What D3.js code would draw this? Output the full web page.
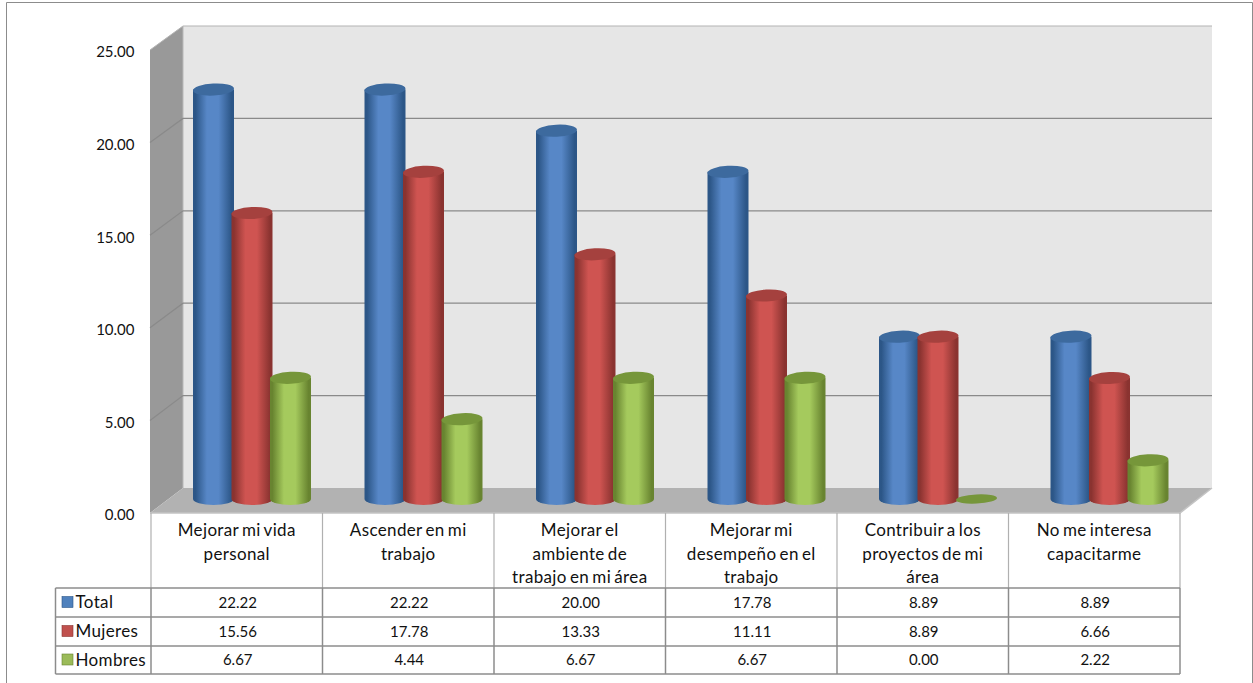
<!DOCTYPE html>
<html><head><meta charset="utf-8">
<script src="https://cdn.jsdelivr.net/npm/d3@7"></script>
<style>html,body{margin:0;padding:0;background:#fff}svg{display:block}text{font-family:Lato,"Open Sans",sans-serif;fill:#111}</style>
</head><body><div id="c"></div>
<script>
const categories=[["Mejorar mi vida","personal"],["Ascender en mi","trabajo"],["Mejorar el","ambiente de","trabajo en mi área"],["Mejorar mi","desempeño en el","trabajo"],["Contribuir a los","proyectos de mi","área"],["No me interesa","capacitarme"]];
const seriesNames=["Total","Mujeres","Hombres"];
const total=[22.22,22.22,20.00,17.78,8.89,8.89];
const mujeres=[15.56,17.78,13.33,11.11,8.89,6.66];
const hombres=[6.67,4.44,6.67,6.67,0.00,2.22];
const seriesValues=[total,mujeres,hombres];
const tickValues=[0,5,10,15,20,25];
const colors=[{e:"#2c5687",m:"#5787c7",t:"#3d6a9e",s:"#4f81bd"},{e:"#8a3330",m:"#cf5451",t:"#a5413e",s:"#c0504d"},{e:"#688430",m:"#a5ca5d",t:"#76963a",s:"#9bbb59"}];

const W=1253,H=683;
const svg=d3.select("#c").append("svg").attr("width",W).attr("height",H);
const defs=svg.append("defs");
colors.forEach((c,i)=>{const g=defs.append("linearGradient").attr("id","g"+i);
 [[0,c.e],[.06,c.e],[.34,c.m],[.62,c.m],[.94,c.e],[1,c.e]].forEach(s=>g.append("stop").attr("offset",s[0]).attr("stop-color",s[1]));});

const x=d3.scaleBand().domain(d3.range(categories.length)).range([151,1180]);
const inner=d3.scalePoint().domain(seriesNames).range([62.5,139.5]);
const yFront=d3.scaleLinear().domain([0,25]).range([513,50]);
const yBack=d3.scaleLinear().domain([0,25]).range([488,26]);
const yBar=d3.scaleLinear().domain([0,25]).range([501.5,38]);
const backL=183,backR=1212,frontL=150,frontR=1180;

// outer border
svg.append("path").attr("d",`M6.5,${H}V2.5H1252.5V${H}`).attr("fill","none").attr("stroke","#8c8c8c").attr("stroke-width",1);

// walls
svg.append("rect").attr("x",backL).attr("y",yBack(25)).attr("width",backR-backL).attr("height",yBack(0)-yBack(25)).attr("fill","#e6e6e6");
svg.append("path").attr("d",`M${frontL},${yFront(25)}L${backL},${yBack(25)}V${yBack(0)}L${frontL},${yFront(0)}Z`).attr("fill","#999999");
svg.append("path").attr("d",`M${frontL},${yFront(0)}L${backL},${yBack(0)}H${backR}L${frontR},${yFront(0)}Z`).attr("fill","#b2b2b2");
svg.append("path").attr("d",`M${backL},${yBack(25)}H${backR}`).attr("stroke","#b4b4b4").attr("stroke-width",1.2);
svg.append("path").attr("d",`M${frontL},${yFront(25)}L${backL},${yBack(25)}`).attr("stroke","#b4b4b4");
svg.append("path").attr("d",`M${backL},${yBack(25)}V${yBack(0)}`).attr("stroke","#b8b8b8");
// gridlines
tickValues.filter(t=>t>0&&t<25).forEach(t=>{
 svg.append("path").attr("fill","none").attr("stroke","#8a8a8a").attr("stroke-width",1.2)
  .attr("d",`M${frontL},${yFront(t)}L${backL},${yBack(t)}H${backR}`);
});
svg.append("path").attr("d",`M${frontL},${yFront(0)}H${frontR}L${backR},${yBack(0)}`).attr("fill","none").attr("stroke","#c4c4c4").attr("stroke-width",1.5);

// y axis
const ax=svg.append("g").attr("transform","translate(134.5,2)").call(d3.axisLeft(yFront).tickValues(tickValues).tickFormat(d3.format(".2f")).tickSize(0).tickPadding(0));
ax.select(".domain").remove();
ax.selectAll("text").style("font-size","15px").style("font-family","Lato,'Open Sans',sans-serif").attr("fill","#111");

// cylinders
const rx=20.5,ry=6,tilt=-3;
seriesNames.forEach((name,si)=>{
 const g=svg.append("g");
 seriesValues[si].forEach((v,ci)=>{
  const cx=x(ci)+inner(name),yb=yBar(0)-2.5,yt=yBar(v);
  if(v>0){
   g.append("path").attr("fill",`url(#g${si})`)
    .attr("d",`M${cx-rx},${yt}V${yb}A${rx},${ry} 0 0 0 ${cx+rx},${yb}V${yt}Z`);
   g.append("ellipse").attr("cx",cx).attr("cy",yt).attr("rx",rx).attr("ry",ry).attr("fill",colors[si].t).attr("transform",`rotate(${tilt},${cx},${yt})`);
  } else {
   g.append("ellipse").attr("cx",cx).attr("cy",yb).attr("rx",rx).attr("ry",ry*.75).attr("fill",colors[si].t).attr("transform",`rotate(${tilt},${cx},${yb})`);
  }
 });
});

// table
const rowY=[588,617,646,674];
const line=(x1,y1,x2,y2,c,w)=>svg.append("line").attr("x1",x1).attr("y1",y1).attr("x2",x2).attr("y2",y2).attr("stroke",c).attr("stroke-width",w);
d3.range(categories.length+1).forEach(i=>{
 const vx=i<categories.length?x(i):frontR;
 line(vx,513,vx,rowY[0],"#b0b0b0",1.2);
 line(vx,rowY[0],vx,rowY[3],"#8c8c8c",1.5);
});
rowY.forEach(y=>line(55.5,y,frontR,y,"#8c8c8c",1.5));
line(55.5,rowY[0],55.5,rowY[3],"#8c8c8c",1.5);

const labelStyle=s=>s.style("font-size","17px").style("letter-spacing","0.35px").style("word-spacing","-1.5px");
categories.forEach((lines,i)=>{
 const t=svg.append("text").attr("text-anchor","middle").call(labelStyle);
 lines.forEach((l,k)=>t.append("tspan").attr("x",x(i)+x.bandwidth()/2).attr("y",532+k*23.3).attr("dominant-baseline","middle").text(l));
});
seriesNames.forEach((name,si)=>{
 const cy=(rowY[si]+rowY[si+1])/2;
 svg.append("rect").attr("x",62).attr("y",cy-6).attr("width",11).attr("height",11).attr("fill",colors[si].s).attr("stroke",colors[si].e).attr("stroke-width",.6);
 svg.append("text").attr("x",75.5).attr("y",cy).attr("dy","0.35em").call(labelStyle).text(name);
 seriesValues[si].forEach((v,ci)=>{
  svg.append("text").attr("x",x(ci)+x.bandwidth()/2+1).attr("y",cy).attr("dy","0.35em").attr("text-anchor","middle").style("font-size","15px").text(v.toFixed(2));
 });
});
</script></body></html>
